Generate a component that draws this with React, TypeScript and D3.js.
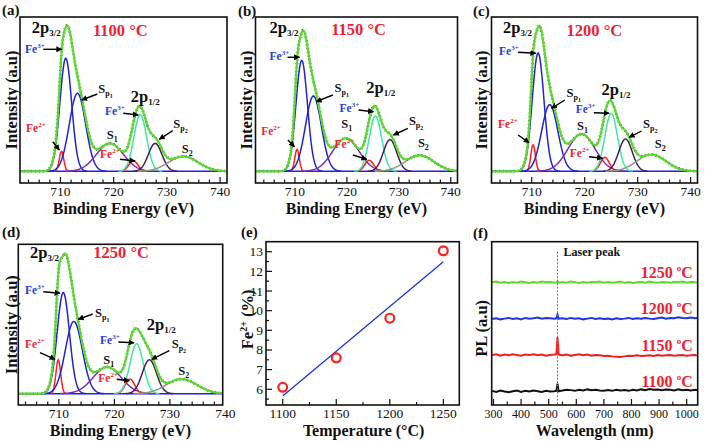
import React from 'react';
import * as d3 from 'd3';

const FONT = "'Liberation Serif', 'Times New Roman', Times, serif";

// ---------------- XPS (Fe 2p) data ----------------
const xpsTemps = ['1100', '1150', '1200', '1250'];
const xpsLetters = ['(a)', '(b)', '(c)', '(d)'];
const componentNames = ['Fe2+ 2p3/2', 'Fe3+ 2p3/2', 'Sp1', 'S1', 'Fe2+ 2p1/2', 'Fe3+ 2p1/2', 'Sp2', 'S2'];
const componentFwhm = [1.0, 2.6, 3.6, 6.0, 2.0, 2.8, 3.0, 6.5];
const centers1100 = [710.2, 711.0, 713.2, 719.3, 723.7, 725.0, 727.8, 733.1];
const heights1100 = [13.7, 77.6, 53.6, 19.2, 7.3, 38.9, 19.2, 10.3];
const centers1150 = [710.4, 711.3, 713.55, 719.8, 724.3, 725.5, 728.3, 734.0];
const heights1150 = [15.1, 76.2, 51.7, 22.7, 7.6, 38.0, 21.8, 11.0];
const centers1200 = [710.25, 711.2, 713.4, 719.4, 723.8, 725.0, 727.7, 732.6];
const heights1200 = [18.3, 81.3, 45.8, 25.6, 9.6, 39.8, 22.2, 11.5];
const centers1250 = [709.9, 710.8, 712.7, 718.7, 722.8, 724.0, 726.3, 732.1];
const heights1250 = [24.1, 71.8, 51.3, 18.9, 10.4, 35.5, 24.1, 10.4];
const xpsCenters = [centers1100, centers1150, centers1200, centers1250];
const xpsHeights = [heights1100, heights1150, heights1200, heights1250];
const beMajorTicks = [710, 720, 730, 740];

// ---------------- Fe2+ fraction data ----------------
const tempC = [1100, 1150, 1200, 1250];
const fe2Percent = [6.1, 7.6, 9.62, 13.05];
const fitTemp = [1100, 1250];
const fitPercent = [5.66, 12.49];
const eYTicks = [6, 7, 8, 9, 10, 11, 12, 13];

// ---------------- PL data ----------------
const plWave = [295, 310, 325, 340, 355, 370, 385, 400, 415, 430, 445, 460, 475, 490, 505, 520, 528, 532, 536, 550, 565, 580, 595, 610, 625, 640, 655, 670, 685, 700, 715, 730, 745, 760, 775, 790, 805, 820, 835, 850, 865, 880, 895, 910, 925, 940, 955, 970, 985, 1000, 1015, 1030, 1040];
const pl1100 = [0.02, -0.01, 0.03, 0.0, -0.02, 0.01, 0.03, -0.01, 0.02, 0.0, 0.03, 0.01, -0.01, 0.02, 0.0, 0.01, 0.02, 0.22, 0.01, 0.03, 0.05, 0.04, 0.02, 0.05, 0.03, 0.06, 0.04, 0.05, 0.03, 0.02, 0.04, 0.02, 0.05, 0.03, 0.04, 0.02, 0.05, 0.03, 0.06, 0.04, 0.07, 0.05, 0.06, 0.04, 0.06, 0.05, 0.03, 0.06, 0.04, 0.05, 0.03, 0.05, 0.04];
const pl1150 = [0.01, 0.03, -0.01, 0.02, 0.0, 0.03, 0.01, -0.01, 0.02, 0.01, 0.03, 0.0, 0.02, -0.01, 0.01, 0.02, 0.03, 0.5, 0.02, 0.0, 0.02, -0.01, 0.01, 0.03, 0.0, 0.02, -0.01, 0.01, 0.0, -0.02, -0.01, -0.03, -0.04, -0.05, -0.03, -0.01, -0.02, 0.0, -0.02, -0.01, 0.0, -0.02, 0.01, -0.01, 0.0, 0.01, -0.01, 0.0, 0.01, -0.01, 0.0, 0.01, -0.01];
const pl1200 = [0.0, 0.02, -0.01, 0.01, 0.03, 0.0, 0.02, -0.01, 0.03, 0.01, 0.02, 0.04, 0.01, 0.03, 0.02, 0.01, 0.02, 0.12, 0.01, 0.02, 0.0, 0.03, 0.01, 0.02, -0.01, 0.01, 0.03, 0.0, 0.02, 0.0, 0.01, -0.01, 0.02, 0.0, 0.01, 0.03, 0.0, 0.02, 0.01, 0.03, 0.01, 0.0, 0.02, 0.04, 0.01, 0.03, 0.02, 0.05, 0.03, 0.02, 0.04, 0.02, 0.03];
const pl1250 = [0.01, 0.03, 0.0, 0.02, -0.01, 0.02, 0.0, 0.03, 0.01, -0.01, 0.02, 0.0, 0.03, 0.01, 0.02, 0.0, 0.01, 0.04, 0.0, 0.02, 0.0, 0.03, 0.01, -0.01, 0.02, 0.0, 0.02, 0.01, 0.03, 0.0, 0.02, 0.0, 0.01, 0.03, 0.0, 0.02, -0.01, 0.01, 0.02, 0.0, 0.03, 0.01, 0.0, 0.02, 0.01, 0.0, 0.02, 0.01, 0.03, 0.0, 0.02, 0.01, 0.0];
const plSeries = [pl1100, pl1150, pl1200, pl1250];
const plOffsets = [0, 1, 2, 3];
const plLabels = ['1100', '1150', '1200', '1250'];
const laserWave = 532;
const plTicks = [300, 400, 500, 600, 700, 800, 900, 1000];

// ---------------- styling / layout ----------------
const compColors = ['#ff1f1f', '#1f24d6', '#1f24d6', '#7b2db8', '#ff1f1f', '#3fe6a4', '#4a1d5c', '#8c9c78'];
const RED = '#ee2233';
const BLUE_TXT = '#2a3bd8';
const ENV_GREEN = '#5ada2e';
const plColors = ['#111111', '#ee2020', '#2233dd', '#55dd22'];

const xpsFrames = [
  { l: 20, t: 17, r: 227, b: 183 },
  { l: 255.5, t: 17, r: 457.5, b: 183 },
  { l: 491.5, t: 17, r: 697.5, b: 183 },
  { l: 18.3, t: 244.3, r: 222.7, b: 405 },
];
const xpsDomains = [[702.4, 741.3], [702.4, 741.3], [702.4, 741.3], [702.7, 739.5]];
const xpsLetterPos = [[2, 15], [238, 15.5], [473, 15.5], [2, 237]];
const xpsYLabelX = [17, 252, 487, 17];

type Lab = { k: string; s?: string; c?: string; x: number; y: number; a?: number[] };
const labelLayouts: Lab[][] = [
  [
    { k: '2p', s: '3/2', x: 11.7, y: 16 },
    { k: 'T', x: 73, y: 18.7 },
    { k: 'Fe', s: '3+', c: BLUE_TXT, x: 5, y: 36, a: [23.3, 32.3, 41.7, 32.3] },
    { k: 'Sp', s: '1', x: 78.3, y: 76, a: [77.3, 77, 61.7, 83] },
    { k: 'Fe', s: '2+', c: RED, x: 6, y: 114.7, a: [32.7, 124.7, 39.3, 133] },
    { k: 'S', s: '1', x: 86.7, y: 122 },
    { k: '2p', s: '1/2', x: 110.7, y: 84.7 },
    { k: 'Fe', s: '3+', c: BLUE_TXT, x: 85, y: 98, a: [103.3, 96.3, 118.3, 98] },
    { k: 'Sp', s: '2', x: 153.3, y: 111.3, a: [152.7, 113.7, 139.3, 122.3] },
    { k: 'Fe', s: '2+', c: RED, x: 80, y: 141.3, a: [100, 142.3, 115, 144] },
    { k: 'S', s: '2', x: 161.7, y: 136.3 },
  ],
  [
    { k: '2p', s: '3/2', x: 14, y: 16.3 },
    { k: 'T', x: 75.7, y: 18 },
    { k: 'Fe', s: '3+', c: BLUE_TXT, x: 14, y: 43, a: [32, 40.3, 44, 40.3] },
    { k: 'Sp', s: '1', x: 79, y: 74.7, a: [77.4, 78, 60.7, 84.7] },
    { k: 'Fe', s: '2+', c: RED, x: 5.7, y: 118, a: [32.4, 123, 39, 129.7] },
    { k: 'S', s: '1', x: 85.7, y: 111.3 },
    { k: '2p', s: '1/2', x: 110.7, y: 76.3 },
    { k: 'Fe', s: '3+', c: BLUE_TXT, x: 84, y: 94.7, a: [103, 93, 118, 94.7] },
    { k: 'Sp', s: '2', x: 153.4, y: 108, a: [152.4, 111.3, 138, 118] },
    { k: 'Fe', s: '2+', c: RED, x: 79, y: 131.3, a: [97.4, 138, 111.4, 142.3] },
    { k: 'S', s: '2', x: 162.4, y: 129.7 },
  ],
  [
    { k: '2p', s: '3/2', x: 11.6, y: 16.3 },
    { k: 'T', x: 75, y: 18.7 },
    { k: 'Fe', s: '3+', c: BLUE_TXT, x: 7.6, y: 38, a: [26.6, 35.3, 44.3, 36.3] },
    { k: 'Sp', s: '1', x: 75, y: 80.3, a: [73.3, 83, 60, 91.3] },
    { k: 'Fe', s: '2+', c: RED, x: 6.6, y: 111.3, a: [26.6, 118, 37.6, 125.7] },
    { k: 'S', s: '1', x: 85.6, y: 113 },
    { k: '2p', s: '1/2', x: 110, y: 78 },
    { k: 'Fe', s: '3+', c: BLUE_TXT, x: 84.3, y: 96.3, a: [102.3, 95.7, 117.6, 96.3] },
    { k: 'Sp', s: '2', x: 151.6, y: 111.3, a: [150, 114, 137.6, 120.3] },
    { k: 'Fe', s: '2+', c: RED, x: 78.3, y: 139.7, a: [97.6, 139.7, 111, 141.3] },
    { k: 'S', s: '2', x: 163.3, y: 131.3 },
  ],
  [
    { k: '2p', s: '3/2', x: 11.7, y: 14 },
    { k: 'T', x: 75, y: 14 },
    { k: 'Fe', s: '3+', c: BLUE_TXT, x: 6.7, y: 49.7, a: [25, 47.4, 41.7, 49] },
    { k: 'Sp', s: '1', x: 76.7, y: 72.4, a: [74.4, 69.7, 60, 75] },
    { k: 'Fe', s: '2+', c: RED, x: 6.7, y: 104, a: [21.7, 108.4, 36.7, 115] },
    { k: 'S', s: '1', x: 85, y: 119.7 },
    { k: '2p', s: '1/2', x: 128.4, y: 85.7 },
    { k: 'Fe', s: '3+', c: BLUE_TXT, x: 81.7, y: 99.7, a: [100, 97.7, 115.7, 98.4] },
    { k: 'Sp', s: '2', x: 153.4, y: 104, a: [151, 106.4, 133.4, 115] },
    { k: 'Fe', s: '2+', c: RED, x: 80, y: 137.4, a: [98.4, 135, 111, 136.4] },
    { k: 'S', s: '2', x: 160, y: 130.7 },
  ],
];

const eFrame = { l: 266, t: 241.7, r: 459.3, b: 405 };
const fFrame = { l: 491.7, t: 241.7, r: 697.7, b: 405 };
const TICK_DY = 13;
const TITLE_DY = 30.5;

const gauss = (e: number, c: number, h: number, fw: number) => {
  const s = fw / 2.3548;
  return h * Math.exp(-0.5 * ((e - c) / s) ** 2);
};

function Label({ lab, ox, oy, temp }: { lab: Lab; ox: number; oy: number; temp: string }) {
  const x = ox + lab.x;
  const y = oy + lab.y;
  let el: React.ReactNode = null;
  if (lab.k === '2p') {
    el = (
      <text x={x} y={y} fontSize={16.5} fontWeight="bold" fill="#111">
        2p<tspan fontSize={9} dy={3}>{lab.s}</tspan>
      </text>
    );
  } else if (lab.k === 'T') {
    el = (
      <text x={x} y={y} fontSize={16.5} fontWeight="bold" fill={RED}>
        {temp} °C
      </text>
    );
  } else if (lab.k === 'Fe') {
    el = (
      <text x={x} y={y} fontSize={11.5} fontWeight="bold" fill={lab.c}>
        Fe<tspan fontSize={7} dy={-5}>{lab.s}</tspan>
      </text>
    );
  } else if (lab.k === 'Sp') {
    el = (
      <text x={x} y={y} fontSize={12.5} fontWeight="bold" fill="#111">
        S<tspan fontSize={8} dy={3}>p</tspan><tspan fontSize={6} dy={2}>{lab.s}</tspan>
      </text>
    );
  } else if (lab.k === 'S') {
    el = (
      <text x={x} y={y} fontSize={12.5} fontWeight="bold" fill="#111">
        S<tspan fontSize={8} dy={3}>{lab.s}</tspan>
      </text>
    );
  }
  return (
    <g>
      {el}
      {lab.a && (
        <line
          x1={ox + lab.a[0]} y1={oy + lab.a[1]} x2={ox + lab.a[2]} y2={oy + lab.a[3]}
          stroke="#000" strokeWidth={1.4} markerEnd="url(#arrowHead)"
        />
      )}
    </g>
  );
}

function XpsPanel({ idx }: { idx: number }) {
  const f = xpsFrames[idx];
  const dom = xpsDomains[idx];
  const centers = xpsCenters[idx];
  const heights = xpsHeights[idx];
  const x = d3.scaleLinear().domain(dom).range([f.l, f.r]);
  const y = d3.scaleLinear().domain([-8, 106]).range([f.b, f.t]);
  const es = d3.range(dom[0], dom[1] + 0.001, 0.1);
  const line = d3.line<[number, number]>().x((d) => x(d[0])).y((d) => y(d[1]));
  const env: [number, number][] = es.map((e) => [e, d3.sum(centers.map((c, i) => gauss(e, c, heights[i], componentFwhm[i])))]);
  const comps = centers.map((c, i) => {
    const pts: [number, number][] = es
      .map((e) => [e, gauss(e, c, heights[i], componentFwhm[i])] as [number, number])
      .filter((p) => p[1] > 0.08);
    return line(pts) || '';
  });
  const minor = d3.range(704, dom[1], 2).filter((v) => !beMajorTicks.includes(v));
  const clipId = `clip-xps-${idx}`;
  const midX = (f.l + f.r) / 2;
  return (
    <g>
      <defs>
        <clipPath id={clipId}>
          <rect x={f.l} y={f.t} width={f.r - f.l} height={f.b - f.t} />
        </clipPath>
      </defs>
      <g clipPath={`url(#${clipId})`}>
        <line x1={f.l} x2={f.r} y1={y(0)} y2={y(0)} stroke="#2222dd" strokeWidth={1.5} />
        {comps.map((p, i) => (
          <path key={componentNames[i]} d={p} fill="none" stroke={compColors[i]} strokeWidth={1.5} />
        ))}
        <path d={line(env) || ''} fill="none" stroke="#111" strokeWidth={3} strokeDasharray="0.6 3.2" />
        <path d={line(env) || ''} fill="none" stroke={ENV_GREEN} strokeWidth={2.2} />
      </g>
      <rect x={f.l} y={f.t} width={f.r - f.l} height={f.b - f.t} fill="none" stroke="#111" strokeWidth={1.6} />
      {minor.map((v) => (
        <line key={`m${v}`} x1={x(v)} x2={x(v)} y1={f.b} y2={f.b - 3.5} stroke="#111" strokeWidth={1.2} />
      ))}
      {beMajorTicks.filter((v) => v <= dom[1]).map((v) => (
        <line key={`M${v}`} x1={x(v)} x2={x(v)} y1={f.b} y2={f.b - 6} stroke="#111" strokeWidth={1.2} />
      ))}
      {beMajorTicks.map((v) => (
        <text key={`t${v}`} x={x(v)} y={f.b + TICK_DY} fontSize={13.5} textAnchor="middle" fill="#111">{v}</text>
      ))}
      <text x={midX} y={f.b + TITLE_DY} fontSize={16} fontWeight="bold" textAnchor="middle" fill="#111">
        Binding Energy (eV)
      </text>
      <text
        transform={`translate(${xpsYLabelX[idx]},${(f.t + f.b) / 2}) rotate(-90)`}
        fontSize={16.5} fontWeight="bold" textAnchor="middle" fill="#111"
      >
        Intensity (a.u)
      </text>
      <text x={xpsLetterPos[idx][0]} y={xpsLetterPos[idx][1]} fontSize={15} fontWeight="bold" fill="#111">
        {xpsLetters[idx]}
      </text>
      {labelLayouts[idx].map((lab, i) => (
        <Label key={i} lab={lab} ox={f.l} oy={f.t} temp={xpsTemps[idx]} />
      ))}
    </g>
  );
}

function PanelE() {
  const f = eFrame;
  const x = d3.scaleLinear().domain([1084.4, 1264.9]).range([f.l, f.r]);
  const y = d3.scaleLinear().domain([5.2, 13.51]).range([f.b, f.t]);
  const yMinor = d3.range(5.5, 13.5, 1);
  const xMinor = [1125, 1175, 1225];
  return (
    <g>
      <rect x={f.l} y={f.t} width={f.r - f.l} height={f.b - f.t} fill="none" stroke="#111" strokeWidth={1.6} />
      {eYTicks.map((v) => (
        <g key={`y${v}`}>
          <line x1={f.l} x2={f.l + 6} y1={y(v)} y2={y(v)} stroke="#111" strokeWidth={1.2} />
          <text x={f.l - 3} y={y(v) + 4.5} fontSize={13.5} textAnchor="end" fill="#111">{v}</text>
        </g>
      ))}
      {yMinor.map((v) => (
        <line key={`ym${v}`} x1={f.l} x2={f.l + 3} y1={y(v)} y2={y(v)} stroke="#111" strokeWidth={1.2} />
      ))}
      {tempC.map((v) => (
        <g key={`x${v}`}>
          <line x1={x(v)} x2={x(v)} y1={f.b} y2={f.b - 6} stroke="#111" strokeWidth={1.2} />
          <text x={x(v)} y={f.b + TICK_DY} fontSize={13.5} textAnchor="middle" fill="#111">{v}</text>
        </g>
      ))}
      {xMinor.map((v) => (
        <line key={`xm${v}`} x1={x(v)} x2={x(v)} y1={f.b} y2={f.b - 3} stroke="#111" strokeWidth={1.2} />
      ))}
      <line x1={x(fitTemp[0])} y1={y(fitPercent[0])} x2={x(fitTemp[1])} y2={y(fitPercent[1])} stroke="#1a36d8" strokeWidth={1.3} />
      {tempC.map((t, i) => (
        <circle key={`p${t}`} cx={x(t)} cy={y(fe2Percent[i])} r={4.4} fill="none" stroke="#ff1f1f" strokeWidth={2.2} />
      ))}
      <text x={(f.l + f.r) / 2 + 1} y={f.b + TITLE_DY} fontSize={16} fontWeight="bold" textAnchor="middle" fill="#111">
        Temperature (°C)
      </text>
      <text transform={`translate(253,${(f.t + f.b) / 2 - 4}) rotate(-90)`} fontSize={16.5} fontWeight="bold" textAnchor="middle" fill="#111">
        Fe<tspan fontSize={10} dy={-6}>2+</tspan><tspan dy={6}> (%)</tspan>
      </text>
      <text x={241} y={237} fontSize={15} fontWeight="bold" fill="#111">(e)</text>
    </g>
  );
}

function PanelF() {
  const f = fFrame;
  const x = d3.scaleLinear().domain([293.5, 1040]).range([f.l, f.r]);
  const y = d3.scaleLinear().domain([-0.37, 4.13]).range([f.b, f.t]);
  const minor = d3.range(350, 1040, 100);
  const line = d3.line<number>().x((_, i) => x(plWave[i])).y((d) => y(d));
  return (
    <g>
      {plSeries.map((s, k) => (
        <path key={plLabels[k]} d={line(s.map((v) => v + plOffsets[k])) || ''} fill="none" stroke={plColors[k]} strokeWidth={2} />
      ))}
      <line x1={x(laserWave)} x2={x(laserWave)} y1={f.t + 10} y2={f.b} stroke="#c040c0" strokeWidth={1} strokeDasharray="2 1.5" />
      <rect x={f.l} y={f.t} width={f.r - f.l} height={f.b - f.t} fill="none" stroke="#111" strokeWidth={1.6} />
      {plTicks.map((v) => (
        <g key={`t${v}`}>
          <line x1={x(v)} x2={x(v)} y1={f.b} y2={f.b - 6} stroke="#111" strokeWidth={1.2} />
          <text x={x(v)} y={f.b + TICK_DY} fontSize={12} textAnchor="middle" fill="#111">{v}</text>
        </g>
      ))}
      {minor.map((v) => (
        <line key={`m${v}`} x1={x(v)} x2={x(v)} y1={f.b} y2={f.b - 3.5} stroke="#111" strokeWidth={1.2} />
      ))}
      {plLabels.map((t, k) => (
        <text key={`l${t}`} x={f.r - 5} y={y(plOffsets[k]) - 4.5} fontSize={16} fontWeight="bold" textAnchor="end" fill={RED}>
          {t} <tspan fontSize={9} dy={-7}>o</tspan><tspan dy={7}>C</tspan>
        </text>
      ))}
      <text x={x(laserWave) + 6} y={f.t + 14.5} fontSize={12} fontWeight="bold" fill="#111">Laser peak</text>
      <text x={(f.l + f.r) / 2} y={f.b + TITLE_DY} fontSize={16} fontWeight="bold" textAnchor="middle" fill="#111">
        Wavelength (nm)
      </text>
      <text transform={`translate(487,${(f.t + f.b) / 2 + 5}) rotate(-90)`} fontSize={16.5} fontWeight="bold" textAnchor="middle" fill="#111">
        PL (a.u)
      </text>
      <text x={473} y={238} fontSize={15} fontWeight="bold" fill="#111">(f)</text>
    </g>
  );
}

export default function App() {
  return (
    <svg
      width={709}
      height={441}
      style={{ position: 'absolute', left: 0, top: 0, background: '#fff', fontFamily: FONT }}
    >
      <style>{`text { font-family: ${FONT}; }`}</style>
      <defs>
        <marker id="arrowHead" viewBox="0 0 10 10" refX={9} refY={5} markerWidth={6} markerHeight={6} orient="auto" markerUnits="userSpaceOnUse">
          <path d="M0,0 L10,5 L0,10 z" fill="#000" />
        </marker>
      </defs>
      <rect x={0} y={0} width={709} height={441} fill="#fff" />
      {[0, 1, 2, 3].map((i) => (
        <XpsPanel key={i} idx={i} />
      ))}
      <PanelE />
      <PanelF />
    </svg>
  );
}
